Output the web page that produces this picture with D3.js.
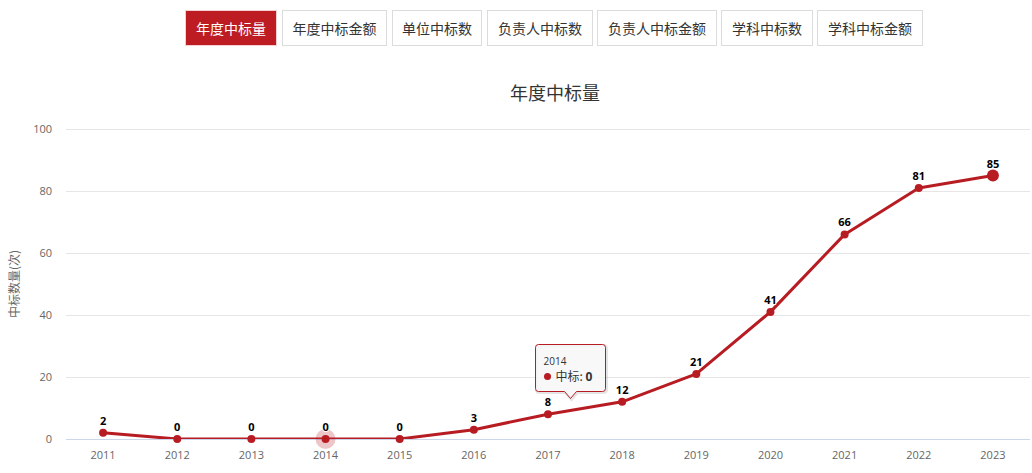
<!DOCTYPE html>
<html><head><meta charset="utf-8">
<script src="https://cdn.jsdelivr.net/npm/d3@7"></script>
<style>
html,body{margin:0;padding:0;background:#fff;width:1032px;height:473px;overflow:hidden;font-family:"Noto Sans CJK SC","Noto Sans",sans-serif;}
#tabs{position:absolute;left:0;top:0;}
.tab{position:absolute;top:10px;height:36px;box-sizing:border-box;border:1px solid #dcdcdc;background:#fff;color:#333;font-size:14px;line-height:34px;text-align:center;white-space:nowrap;}
.tab.active{background:#be1c23;color:#fff;border-color:#f0d0d2;}
svg{position:absolute;left:0;top:0;}
</style></head>
<body>
<div id="tabs"></div>
<svg id="chart" width="1032" height="473"></svg>
<script>
const tabLabels = ["年度中标量","年度中标金额","单位中标数","负责人中标数","负责人中标金额","学科中标数","学科中标金额"];
const years = ["2011","2012","2013","2014","2015","2016","2017","2018","2019","2020","2021","2022","2023"];
const counts = [2,0,0,0,0,3,8,12,21,41,66,81,85];
const yTicks = [0,20,40,60,80,100];
const chartTitle = "年度中标量";
const yTitle = "中标数量(次)";
const seriesName = "中标";
const hoverIndex = 3;

// tabs
const tabBox = [[185,92],[282,105],[392,90],[487,106],[597,120],[721,92],[817,106]];
d3.select("#tabs").selectAll("div").data(tabLabels).join("div")
  .attr("class",(d,i)=>"tab"+(i===0?" active":""))
  .style("left",(d,i)=>tabBox[i][0]+"px")
  .style("width",(d,i)=>tabBox[i][1]+"px")
  .text(d=>d);

const svg = d3.select("#chart");
const red = "#b81c23";
const m = {left:66, right:1030, top:129, bottom:439};

const x = d3.scaleBand().domain(years).range([m.left, m.right]);
const cx = d => x(d) + x.bandwidth()/2;
const y = d3.scaleLinear().domain([0,100]).range([m.bottom, m.top]);

// title
svg.append("text").attr("x",555).attr("y",100).attr("text-anchor","middle")
  .attr("font-size",18).attr("fill","#333").text(chartTitle);

// grid
svg.append("g").selectAll("line").data(yTicks.filter(t=>t>0)).join("line")
  .attr("x1",m.left).attr("x2",m.right).attr("y1",d=>y(d)+0.5).attr("y2",d=>y(d)+0.5)
  .attr("stroke","#e6e6e6").attr("stroke-width",1);

// y labels
svg.append("g").selectAll("text").data(yTicks).join("text")
  .attr("x",52).attr("y",d=>y(d)+4).attr("text-anchor","end")
  .attr("font-size",11).attr("fill","#666").attr("font-family","'Open Sans',sans-serif").text(d=>d);

// y title
svg.append("text").attr("transform",`translate(19,${(m.top+m.bottom)/2}) rotate(-90)`)
  .attr("text-anchor","middle").attr("font-size",12).attr("fill","#666").text(yTitle);

// x axis line
svg.append("line").attr("x1",m.left).attr("x2",m.right).attr("y1",m.bottom+0.5).attr("y2",m.bottom+0.5)
  .attr("stroke","#ccd6eb").attr("stroke-width",1);

// x labels
svg.append("g").selectAll("text").data(years).join("text")
  .attr("x",d=>cx(d)).attr("y",459).attr("text-anchor","middle")
  .attr("font-size",11).attr("fill","#666").attr("font-family","'Open Sans',sans-serif").text(d=>d);

// clip
svg.append("clipPath").attr("id","clip").append("rect")
  .attr("x",m.left).attr("y",m.top-10).attr("width",m.right-m.left).attr("height",m.bottom-m.top+10);

const line = d3.line().x((d,i)=>cx(years[i])).y(d=>y(d));
svg.append("path").datum(counts).attr("d",line).attr("fill","none")
  .attr("stroke",red).attr("stroke-width",3).attr("stroke-linejoin","round").attr("stroke-linecap","round")
  .attr("clip-path","url(#clip)");

// halo
svg.append("circle").attr("cx",cx(years[hoverIndex])).attr("cy",y(counts[hoverIndex])).attr("r",10)
  .attr("fill",red).attr("fill-opacity",0.25);

// markers
svg.append("g").selectAll("circle").data(counts).join("circle")
  .attr("cx",(d,i)=>cx(years[i])).attr("cy",d=>y(d))
  .attr("r",(d,i)=>i===counts.length-1?6:4).attr("fill",red);

// data labels
svg.append("g").selectAll("text").data(counts).join("text")
  .attr("x",(d,i)=>cx(years[i])).attr("y",d=>y(d)-8).attr("text-anchor","middle")
  .attr("font-size",11).attr("font-weight","bold").attr("fill","#000")
  .attr("stroke","#fff").attr("stroke-width",2).attr("paint-order","stroke").attr("stroke-linejoin","round")
  .attr("font-family","'Open Sans',sans-serif").text(d=>d);

// tooltip
const tt = svg.append("g").attr("transform","translate(535.5,344.5)");
const w=70, h=47, tipX=35, tipH=7;
const tpath = `M3,0 H${w-3} Q${w},0 ${w},3 V${h-3} Q${w},${h} ${w-3},${h} H${tipX+6} L${tipX},${h+tipH} L${tipX-6},${h} H3 Q0,${h} 0,${h-3} V3 Q0,0 3,0 Z`;
tt.append("path").attr("d",tpath).attr("transform","translate(1,1)").attr("fill","none")
  .attr("stroke","#000").attr("stroke-opacity",0.1).attr("stroke-width",3);
tt.append("path").attr("d",tpath).attr("fill","rgba(247,247,247,0.85)").attr("stroke",red).attr("stroke-width",1);
tt.append("text").attr("x",8).attr("y",20).attr("font-size",10).attr("fill","#333")
  .attr("font-family","'Open Sans',sans-serif").text(years[hoverIndex]);
tt.append("circle").attr("cx",12).attr("cy",32).attr("r",3.5).attr("fill",red);
const t2 = tt.append("text").attr("x",20).attr("y",36).attr("font-size",12).attr("fill","#333");
t2.append("tspan").text(seriesName+": ");
t2.append("tspan").attr("font-weight","bold").attr("font-family","'Open Sans',sans-serif").text(counts[hoverIndex]);
</script>
</body></html>
